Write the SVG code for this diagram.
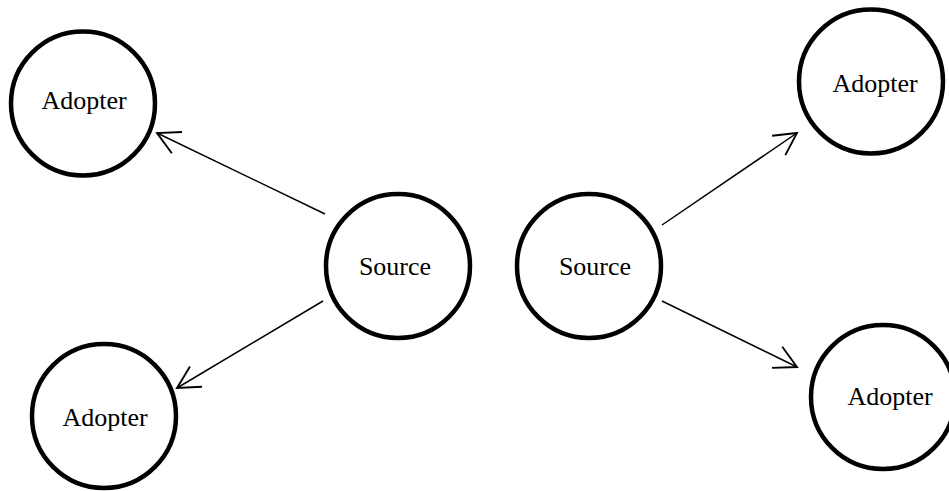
<svg xmlns="http://www.w3.org/2000/svg" width="949" height="491" viewBox="0 0 949 491">
  <style>
    .node circle { fill: #ffffff; stroke: #000000; stroke-width: 4.5; }
    .node text { font-family: "Liberation Serif", "Times New Roman", serif; font-size: 26px; fill: #000000; text-anchor: middle; }
    .edge { fill: none; stroke: #000000; stroke-width: 1.5; marker-end: url(#open-arrow); }
  </style>
  <defs>
    <marker id="open-arrow" markerUnits="userSpaceOnUse" orient="auto" markerWidth="30" markerHeight="30" viewBox="-20 -12 24 24" refX="0" refY="0" overflow="visible">
      <path d="M-17.7,-9.4 L0,0 L-17.7,9.4" fill="none" stroke="#000000" stroke-width="1.5"/>
    </marker>
  </defs>
  <rect width="949" height="491" fill="#ffffff"/>

  <g id="connectors">
    <line class="edge" x1="325" y1="214" x2="157" y2="133"/>
    <line class="edge" x1="323" y1="301" x2="177" y2="388"/>
    <line class="edge" x1="662" y1="225" x2="797" y2="133"/>
    <line class="edge" x1="662" y1="301" x2="797" y2="367"/>
  </g>

  <g id="adopter-top-left" class="node">
    <circle cx="83" cy="103.5" r="72"/>
    <text x="84" y="109">Adopter</text>
  </g>
  <g id="adopter-bottom-left" class="node">
    <circle cx="104" cy="416" r="72"/>
    <text x="105" y="426">Adopter</text>
  </g>
  <g id="source-left" class="node">
    <circle cx="398" cy="266" r="72"/>
    <text x="395" y="275">Source</text>
  </g>
  <g id="source-right" class="node">
    <circle cx="589" cy="266" r="72"/>
    <text x="595" y="275">Source</text>
  </g>
  <g id="adopter-top-right" class="node">
    <circle cx="871" cy="81.5" r="72"/>
    <text x="875" y="92">Adopter</text>
  </g>
  <g id="adopter-bottom-right" class="node">
    <circle cx="883" cy="397" r="72"/>
    <text x="890" y="405">Adopter</text>
  </g>
</svg>
